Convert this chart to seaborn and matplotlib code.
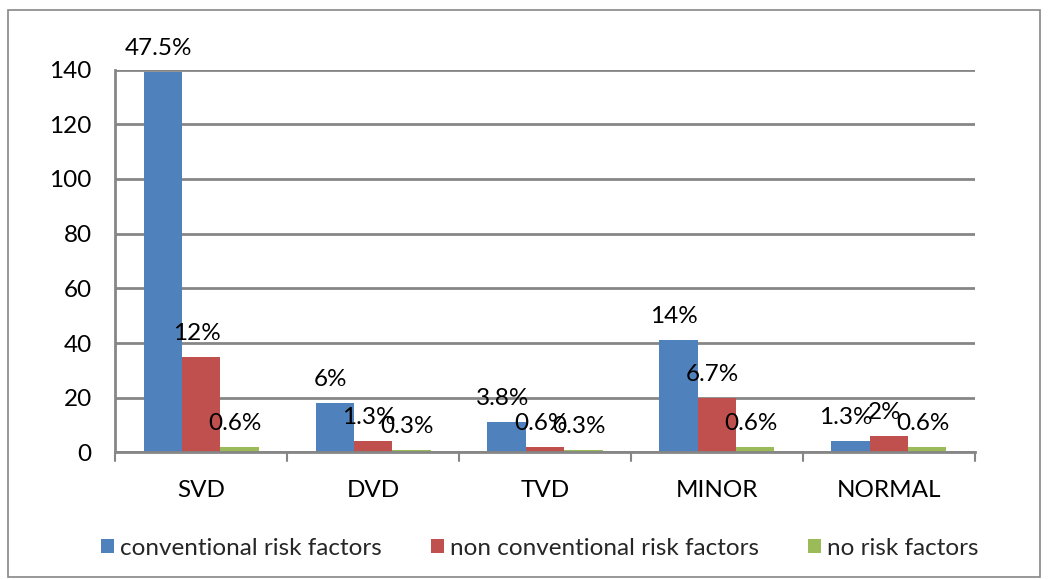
import matplotlib
matplotlib.use("Agg")
import matplotlib.pyplot as plt
import seaborn as sns
import pandas as pd
from matplotlib.patches import Rectangle

categories = ["SVD", "DVD", "TVD", "MINOR", "NORMAL"]
series = ["conventional risk factors", "non conventional risk factors", "no risk factors"]
conventional = [139, 18, 11, 41, 4]
non_conventional = [35, 4, 2, 20, 6]
no_risk = [2, 1, 1, 2, 2]
pct_conventional = ["47.5%", "6%", "3.8%", "14%", "1.3%"]
pct_non_conventional = ["12%", "1.3%", "0.6%", "6.7%", "2%"]
pct_no_risk = ["0.6%", "0.3%", "0.3%", "0.6%", "0.6%"]
y_ticks = [0, 20, 40, 60, 80, 100, 120, 140]
colors = ["#4F81BD", "#C0504D", "#9BBB59"]

rows = []
for s, vals in zip(series, [conventional, non_conventional, no_risk]):
    for c, v in zip(categories, vals):
        rows.append({"category": c, "series": s, "value": v})
df = pd.DataFrame(rows)

sns.set_theme(style="white")
plt.rcParams["font.family"] = ["Lato", "DejaVu Sans"]
FS = 17.5

fig = plt.figure(figsize=(10.48, 5.8), dpi=100)
ax = fig.add_axes([0.11, 0.22, 0.82, 0.66])

sns.barplot(data=df, x="category", y="value", hue="series", order=categories,
            hue_order=series, palette=colors, width=0.67, ax=ax, legend=True,
            edgecolor="none", saturation=1)

ax.set_ylim(0, 140)
ax.set_xlim(-0.5, len(categories) - 0.5)
ax.set_yticks(y_ticks)
ax.set_yticklabels([str(t) for t in y_ticks], fontsize=FS, color="black")
ax.set_xlabel("")
ax.set_ylabel("")
ax.tick_params(axis="x", labelsize=FS, colors="black", pad=20, length=0)
ax.tick_params(axis="y", length=9, width=1.5, color="#868686", direction="out", pad=8)
for t in y_ticks:
    ax.axhline(t, color="#868686", lw=2, zorder=0)
ax.set_axisbelow(True)
for side in ["top", "right"]:
    ax.spines[side].set_visible(False)
ax.spines["left"].set_color("#868686")
ax.spines["left"].set_linewidth(2)
ax.spines["bottom"].set_color("#868686")
ax.spines["bottom"].set_linewidth(2)
# category separator ticks
for b in range(len(categories) + 1):
    ax.plot([b - 0.5, b - 0.5], [0, -3], color="#868686", lw=1.5, clip_on=False)

labels_all = [pct_conventional, pct_non_conventional, pct_no_risk]
for container, labs in zip(ax.containers, labels_all):
    for bar, lab in zip(container, labs):
        x = bar.get_x() + bar.get_width() / 2
        ax.annotate(lab, (x, bar.get_height()), xytext=(-3, 17),
                    textcoords="offset points", ha="center", va="center",
                    fontsize=FS, color="black", annotation_clip=False)

handles, labels = ax.get_legend_handles_labels()
ax.legend_.remove()
fig.legend(handles, labels, loc="center", bbox_to_anchor=(0.515, 0.055), ncol=3,
           frameon=False, fontsize=FS, handlelength=0.55, handleheight=0.55,
           handletextpad=0.25, columnspacing=2.0)

fig.patches.append(Rectangle((0.008, 0.005), 0.984, 0.978, transform=fig.transFigure,
                             fill=False, edgecolor="#868686", lw=1.2))

fig.savefig("out.png", dpi=100)
